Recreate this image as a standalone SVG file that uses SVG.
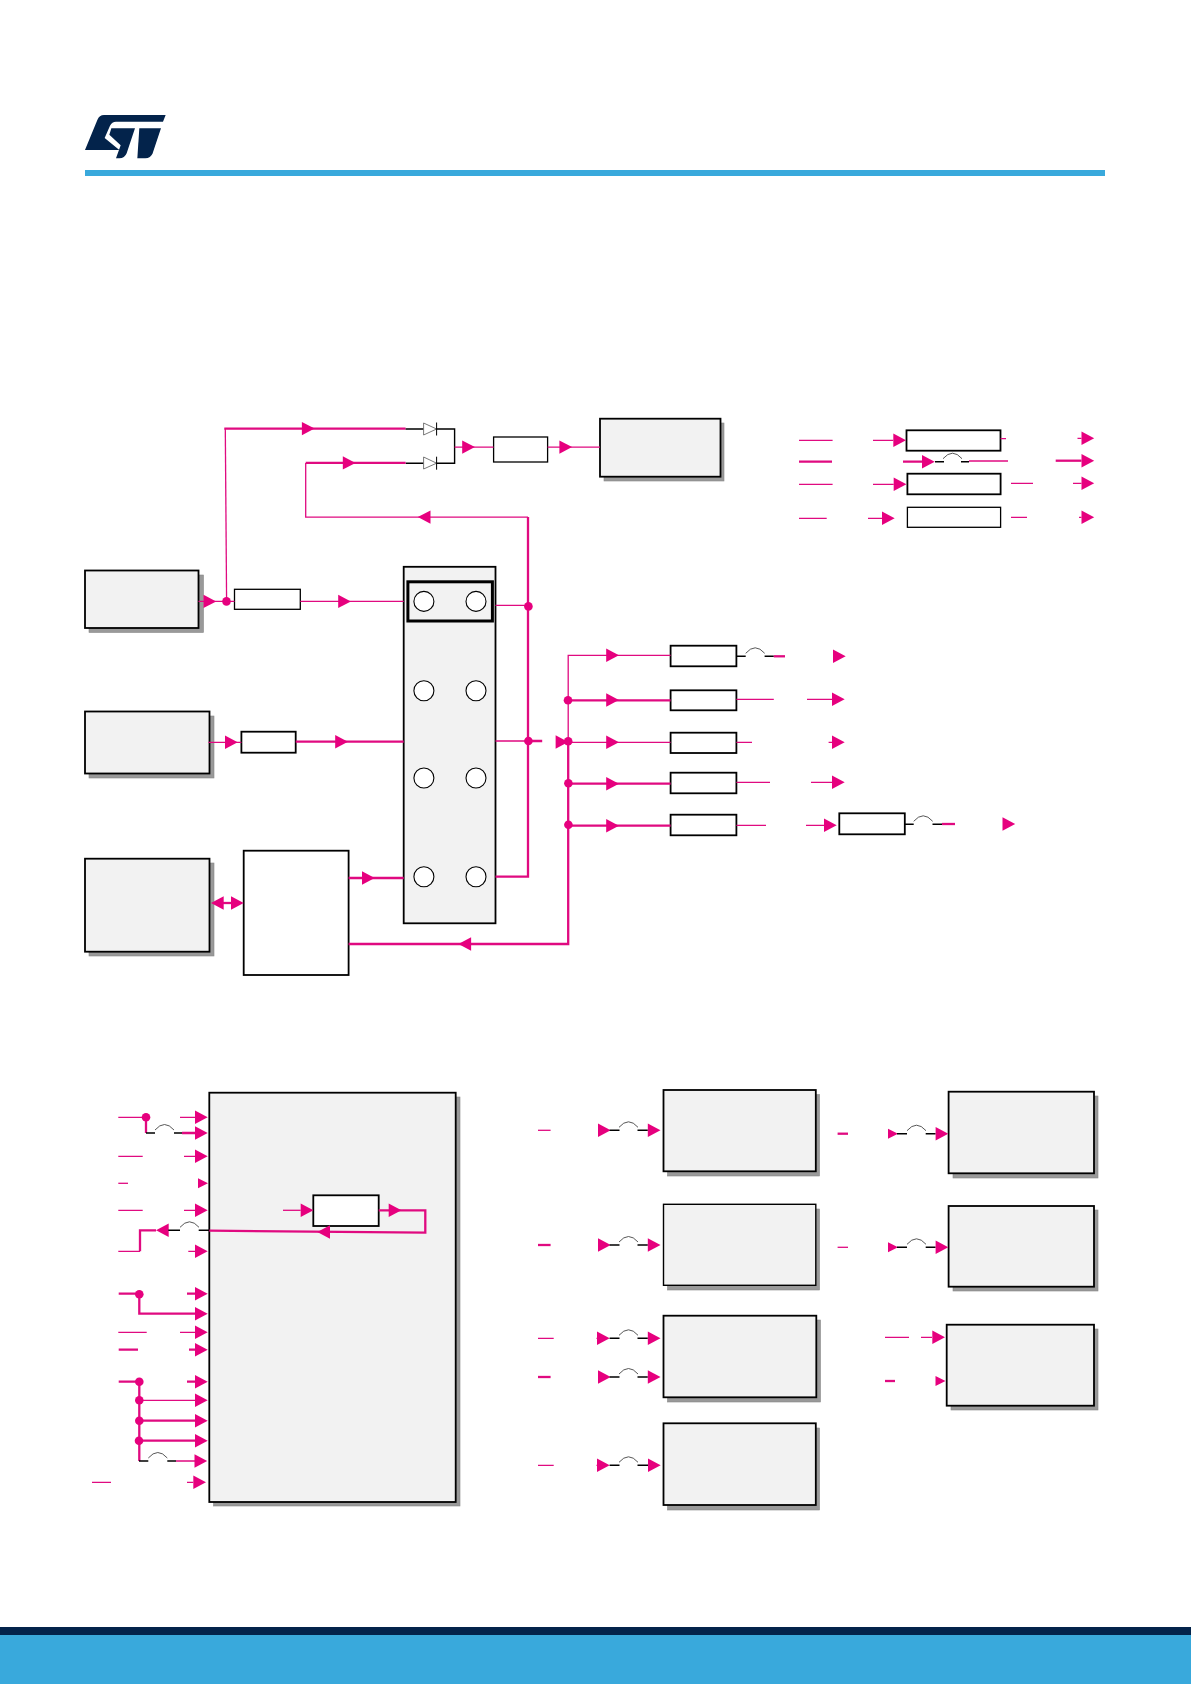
<svg xmlns="http://www.w3.org/2000/svg" xmlns:xlink="http://www.w3.org/1999/xlink" width="1191" height="1684" viewBox="0 0 1191 1684">
<style>
.n{fill:#f2f2f2;stroke:#000;stroke-width:1.4}
.nt{fill:#f2f2f2;stroke:#000;stroke-width:1.8}
.w{fill:#fff;stroke:#000;stroke-width:1.3}
.wt{fill:#fff;stroke:#000;stroke-width:1.8}
.s{fill:#999;stroke:#888;stroke-width:.6}
.o{fill:#fff;stroke:#000;stroke-width:1.1}
.p{fill:none;stroke:#e00a80;stroke-width:1.3}
.t{fill:none;stroke:#e00a80;stroke-width:2.3}
.k{fill:none;stroke:#000;stroke-width:1.4}
.j{fill:none;stroke:#444;stroke-width:.9}
.a{fill:#e6007e}
.logo{fill:#03234b}
</style>
<defs>
<path id="ar" class="a" d="M0,-6.7L12.7,0L0,6.7Z"/>
<path id="al" class="a" d="M0,0L12.7,-6.7L12.7,6.7Z"/>
<path id="as" class="a" d="M0,-5L10,0L0,5Z"/>
<circle id="d" class="a" r="4.3"/>
<path id="jump" class="j" d="M0,-3Q9.500,-14 19,-3"/>
</defs>
<rect width="1191" height="1684" fill="#fff"/>
<g id="header">
<g id="logo" transform="translate(80,110) scale(.3333)">
<path class="logo" d="M72,15H257L249,35H108Q96,35 90,47L74,84L118,120H15L52,30Q58,15 72,15Z"/>
<path class="logo" d="M94,55H165L140,130Q134,145 118,145H108L122,106L88,74Z"/>
<path class="logo" d="M178,55H243L218,130Q212,145 196,145H172Z"/>
</g>
<rect x="85" y="170" width="1020" height="6" fill="#39a9dc"/>
</g>
<g id="footer">
<rect x="0" y="1627" width="1191" height="8" fill="#03234b"/>
<rect x="0" y="1635" width="1191" height="49" fill="#39a9dc"/>
</g>

<g id="nodes">
<g id="source-1"><rect class="s" x="89" y="575" width="114.500" height="57.500"/><rect class="nt" x="85" y="570.500" width="113.500" height="57.500"/></g>
<g id="source-2"><rect class="s" x="89" y="716" width="125" height="62"/><rect class="nt" x="85" y="711.500" width="124.500" height="62"/></g>
<g id="source-3"><rect class="s" x="89" y="863" width="125" height="93"/><rect class="nt" x="85" y="858.700" width="124.500" height="93"/></g>
<g id="load-top"><rect class="s" x="604" y="423" width="120" height="58"/><rect class="nt" x="600" y="418.700" width="120.500" height="58"/></g>
<g id="reg-top"><rect class="w" x="493.600" y="437" width="54" height="25"/></g>
<g id="reg-1"><rect class="w" x="234.500" y="589.300" width="65.800" height="20"/></g>
<g id="reg-2"><rect class="wt" x="241.400" y="731.700" width="54.300" height="21"/></g>
<g id="controller"><rect class="wt" x="243.700" y="850.700" width="104.900" height="124.300"/></g>
<g id="selector">
<rect class="nt" x="403.700" y="566.800" width="91.800" height="356.500"/>
<rect x="407.900" y="581.800" width="84.500" height="39.200" fill="none" stroke="#000" stroke-width="3"/>
<circle class="o" cx="423.900" cy="601.400" r="10"/><circle class="o" cx="476" cy="601.400" r="10"/>
<circle class="o" cx="423.900" cy="690.700" r="10"/><circle class="o" cx="476" cy="690.700" r="10"/>
<circle class="o" cx="423.900" cy="778" r="10"/><circle class="o" cx="476" cy="778" r="10"/>
<circle class="o" cx="423.900" cy="876.700" r="10"/><circle class="o" cx="476" cy="876.700" r="10"/>
</g>
<g id="tr-a"><rect class="wt" x="906.500" y="430.300" width="94" height="20.400"/></g>
<g id="tr-c"><rect class="wt" x="907.400" y="473.700" width="93.200" height="20.600"/></g>
<g id="tr-d"><rect class="w" x="907.400" y="507.300" width="93.200" height="20"/></g>
<g id="mid-1"><rect class="wt" x="670.600" y="645.700" width="65.800" height="20.600"/></g>
<g id="mid-2"><rect class="wt" x="670.600" y="690.300" width="65.800" height="20"/></g>
<g id="mid-3"><rect class="wt" x="670.600" y="732.700" width="65.800" height="20.300"/></g>
<g id="mid-4"><rect class="wt" x="670.600" y="772.700" width="65.800" height="20.600"/></g>
<g id="mid-5"><rect class="wt" x="670.600" y="814.700" width="65.800" height="20.600"/></g>
<g id="mid-6"><rect class="wt" x="839.300" y="813.300" width="65.500" height="21"/></g>
<g id="mcu"><rect class="s" x="213.500" y="1097" width="246.500" height="409"/><rect class="nt" x="209.300" y="1092.700" width="246.400" height="409.300"/>
<rect class="wt" x="313.300" y="1195.300" width="65.400" height="30.700"/></g>
<g id="col1-1"><rect class="s" x="667.500" y="1094.500" width="152" height="81.500"/><rect class="nt" x="663.500" y="1090" width="152.300" height="81.300"/></g>
<g id="col1-2"><rect class="s" x="667.500" y="1209" width="152" height="81"/><rect class="n" x="663.500" y="1204.300" width="152.300" height="81"/></g>
<g id="col1-3"><rect class="s" x="667.500" y="1320" width="153" height="82"/><rect class="nt" x="663.500" y="1315.700" width="152.800" height="81.600"/></g>
<g id="col1-4"><rect class="s" x="667.500" y="1428" width="152" height="82"/><rect class="nt" x="663.500" y="1423.300" width="152.300" height="81.700"/></g>
<g id="col2-1"><rect class="s" x="953" y="1096" width="145" height="82"/><rect class="nt" x="948.600" y="1091.700" width="145.400" height="81.600"/></g>
<g id="col2-2"><rect class="s" x="953" y="1210" width="145" height="81"/><rect class="nt" x="948.600" y="1206" width="145.400" height="80.700"/></g>
<g id="col2-3"><rect class="s" x="951" y="1329" width="147" height="81"/><rect class="nt" x="946.700" y="1324.700" width="147.300" height="81"/></g>
</g>

<g id="connectors">
<!-- top power path -->
<path class="p" d="M226.600,601.400L225.300,428.600"/>
<path class="t" d="M224.300,428.600H405.600"/>
<path class="k" d="M405.600,429H423.600M436.600,429H454.600V463.200H436.600M423.600,463.200H405.600"/>
<path d="M423.600,423L436.600,429L423.600,435ZM423.600,457L436.600,463.200L423.600,469Z" fill="#fff" stroke="#555" stroke-width=".8"/>
<path d="M436.600,422.500V435.500M436.600,456.700V469.700" stroke="#000" stroke-width="1" fill="none"/>
<path class="t" d="M405.600,462.900H305.700"/>
<path class="p" d="M305.700,462.900V517.100H528"/>
<path class="p" d="M454.600,447.100H493.600M547.600,447.100H600"/>
<use href="#ar" x="301.900" y="428.600"/><use href="#ar" x="342.800" y="462.900"/><use href="#al" x="417.800" y="517.100"/>
<use href="#ar" x="462.200" y="447.100"/><use href="#ar" x="559.400" y="447.100"/>
<!-- sources to selector -->
<path class="p" d="M198.500,601.400H234.500M300.300,601.400H403.700"/>
<use href="#ar" x="203.500" y="601.400"/><use href="#d" x="226.500" y="601.400"/><use href="#ar" x="338.200" y="601.400"/>
<path class="p" d="M208.500,742.300H241.400"/><use href="#ar" x="225" y="742.300"/>
<path class="t" d="M295.700,741.700H403.700"/><use href="#ar" x="335.200" y="741.700"/>
<path class="t" d="M222.600,903H231"/><use href="#al" x="211" y="903"/><use href="#ar" x="231" y="903"/>
<path class="t" d="M348.600,878H403.700"/><use href="#ar" x="362" y="878"/>
<path class="t" d="M348.600,944H568.200V741"/><use href="#al" x="458.400" y="944"/>
<path class="p" d="M568.200,741V655.300H670.600"/>
<!-- selector outputs -->
<path class="p" d="M495.500,605.400H528M495.500,741H528.400"/>
<path class="t" d="M528,517.100V876.700H495.500M528.400,741H542.200"/>
<use href="#d" x="528.400" y="606.400"/><use href="#d" x="528.400" y="741"/>
<use href="#ar" x="555.600" y="742"/>
<!-- bus branches -->
<path class="t" d="M568,700.300H670.600M568,783.700H670.600M568,825.700H670.600"/>
<path class="p" d="M568,742.300H670.600"/>
<use href="#d" x="568" y="700.300"/><use href="#d" x="568.200" y="741.300"/><use href="#d" x="568.400" y="783.300"/><use href="#d" x="568.400" y="824.700"/>
<use href="#ar" x="606.200" y="655.300"/><use href="#ar" x="606.200" y="700"/><use href="#ar" x="606.200" y="742.300"/><use href="#ar" x="606.200" y="783.700"/><use href="#ar" x="606.200" y="825.700"/>
<!-- mid outputs -->
<path class="k" d="M736.400,656.300H745.700M764.600,656.300H773.800"/><use href="#jump" x="745.700" y="656.300"/>
<path class="t" d="M773.800,656.300H785"/><use href="#ar" x="833" y="656.300"/>
<path class="p" d="M736.400,699.300H773.800M807,699.300H832"/><use href="#ar" x="832" y="699.300"/>
<path class="p" d="M736.400,742.300H752M828.600,742.300H832"/><use href="#ar" x="832" y="742.300"/>
<path class="p" d="M736.400,782.300H770M811,782.300H832"/><use href="#ar" x="832" y="782.300"/>
<path class="p" d="M736.400,825.300H766M806,825.300H824"/><use href="#ar" x="824" y="825.300"/>
<path class="k" d="M904.800,824.300H913.700M932.500,824.300H942"/><use href="#jump" x="913.700" y="824.300"/>
<path class="t" d="M942,824H955"/><use href="#ar" x="1002.500" y="824"/>
<!-- top right block -->
<path class="p" d="M799,440.300H832.600M873,440.300H893.300M1000.600,438.700H1006M1077.500,438.300H1081.500"/>
<use href="#ar" x="893.300" y="440.300"/><use href="#ar" x="1081.500" y="438.300"/>
<path class="t" d="M799,461.700H832M903,461.700H922"/>
<use href="#ar" x="922" y="461.700"/>
<path class="k" d="M935,461.700H944M961,461.700H969"/><use href="#jump" x="943" y="461.700"/>
<path class="p" d="M969,461H1008"/><path class="t" d="M1055.700,460.700H1081.500"/><use href="#ar" x="1081.500" y="460.700"/>
<path class="p" d="M799,484.300H832.600M873,484.300H893.700M1011,483.300H1033M1073,483.300H1081.500"/>
<use href="#ar" x="893.700" y="484.300"/><use href="#ar" x="1081.500" y="483.300"/>
<path class="p" d="M799,518.300H826.700M868,518.300H882M1011,517.300H1027M1079,517.300H1081.500"/>
<use href="#ar" x="882" y="518.300"/><use href="#ar" x="1081.500" y="517.300"/>
<!-- MCU left -->
<path class="p" d="M118.300,1117.300H146M180,1117.300H195"/>
<path class="t" d="M146,1117.300V1133M182,1133H195"/>
<use href="#d" x="146" y="1117.300"/><use href="#ar" x="195" y="1117.300"/><use href="#ar" x="195" y="1133"/>
<path class="k" d="M146,1133H155M174,1133H182"/><use href="#jump" x="155" y="1133"/>
<path class="p" d="M118.300,1156.300H142.700M184,1156.300H195"/><use href="#ar" x="195" y="1156.300"/>
<path class="p" d="M118.300,1183.300H128"/><use href="#as" x="198" y="1183.300"/>
<path class="p" d="M118.300,1210.300H142.700M184,1210.300H195"/><use href="#ar" x="195" y="1210.300"/>
<path class="t" d="M156,1230.300H140V1251.300"/><path class="p" d="M118.300,1251.300H140M188.300,1251.300H195"/>
<use href="#al" x="156" y="1230.300"/><use href="#ar" x="195" y="1251.300"/>
<path class="k" d="M168.300,1230.300H180M198.700,1230.300H209.300"/><use href="#jump" x="180" y="1230.300"/>
<path class="t" d="M118.700,1293.700H139.300V1313.700H195M187,1293.700H195"/><use href="#d" x="139.300" y="1294.300"/><use href="#ar" x="195" y="1293.700"/><use href="#ar" x="195" y="1313.700"/>
<path class="p" d="M118.300,1332.300H146.700M180,1332.300H195"/><use href="#ar" x="195" y="1332.300"/>
<path class="t" d="M118.700,1349.700H138M189,1349.700H195"/><use href="#ar" x="195" y="1349.700"/>
<path class="t" d="M118.700,1381.700H139.300V1461M187,1381.700H195M139.300,1420.700H195M139.300,1440.700H195"/>
<path class="p" d="M139.300,1400.300H195M176,1461H195"/>
<use href="#d" x="139.300" y="1381.700"/><use href="#d" x="139.300" y="1400.300"/><use href="#d" x="139.300" y="1420.700"/><use href="#d" x="139" y="1440.700"/>
<use href="#ar" x="195" y="1381.700"/><use href="#ar" x="195" y="1400.300"/><use href="#ar" x="195" y="1420.700"/><use href="#ar" x="195" y="1440.700"/><use href="#ar" x="194.500" y="1461"/>
<path class="k" d="M139,1461H148.300M167.300,1461H176"/><use href="#jump" x="148.300" y="1461"/>
<path class="p" d="M92,1482.300H111M187,1482.300H193.300"/><use href="#ar" x="193.300" y="1482.300"/>
<!-- MCU inner -->
<path class="p" d="M283,1210.300H300.700"/><use href="#ar" x="300.700" y="1210.300"/>
<path class="t" d="M378.700,1210.300H425.300V1232.700L209.300,1230.700"/><use href="#ar" x="388.700" y="1210.300"/><use href="#al" x="317.300" y="1232"/>
<!-- col 1 inputs -->
<path class="p" d="M538,1130.300H550.600"/><use href="#ar" x="598" y="1130.300"/><path class="k" d="M609.600,1130.300H619.500M637.500,1130.300H647.800"/><use href="#jump" x="619" y="1130.300"/><use href="#ar" x="647.800" y="1130.300"/>
<path class="t" d="M538,1245H550.600"/><use href="#ar" x="598" y="1245"/><path class="k" d="M609.600,1245H619.500M637.500,1245H647.800"/><use href="#jump" x="619" y="1245"/><use href="#ar" x="647.800" y="1245"/>
<path class="p" d="M538,1338.300H553.700M596.500,1338.300H598"/><use href="#ar" x="597" y="1338.300"/><path class="k" d="M609.600,1338.300H619.500M637.500,1338.300H647.800"/><use href="#jump" x="619" y="1338.300"/><use href="#ar" x="647.800" y="1338.300"/>
<path class="t" d="M538,1377H550.600"/><use href="#ar" x="598" y="1377"/><path class="k" d="M609.600,1377H619.500M637.500,1377H647.800"/><use href="#jump" x="619" y="1377"/><use href="#ar" x="647.800" y="1377"/>
<path class="p" d="M538,1465.300H553.700M596.500,1465.300H598"/><use href="#ar" x="597" y="1465.300"/><path class="k" d="M609.600,1465.300H619.500M637.500,1465.300H648"/><use href="#jump" x="619" y="1465.300"/><use href="#ar" x="648" y="1465.300"/>
<!-- col 2 inputs -->
<path class="t" d="M837.600,1133.700H848"/><use href="#as" x="888" y="1133.700"/><path class="k" d="M897,1133.700H907M925.700,1133.700H935.600"/><use href="#jump" x="907" y="1133.700"/><use href="#ar" x="935.600" y="1133.700"/>
<path class="p" d="M837.600,1247.300H848"/><use href="#as" x="888" y="1247.300"/><path class="k" d="M897,1247.300H907M925.700,1247.300H935.600"/><use href="#jump" x="907" y="1247.300"/><use href="#ar" x="935.600" y="1247.300"/>
<path class="p" d="M885,1337.300H909M921,1337.300H932"/><use href="#ar" x="932.300" y="1337.300"/>
<path class="t" d="M885,1381H895"/><use href="#as" x="935.500" y="1381"/>
</g>
</svg>
